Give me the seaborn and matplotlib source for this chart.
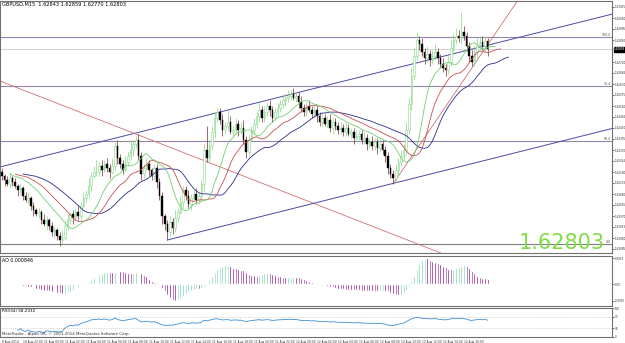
import numpy as np
import pandas as pd
import matplotlib
matplotlib.use("Agg")
import matplotlib.pyplot as plt
import matplotlib.transforms as mtrans
import seaborn as sns

# === Data (GBPUSD M15) ===
# closes in pips (price * 10000)
close_pips = [
    16217, 16215, 16213, 16216, 16214, 16212, 16210, 16211, 16207, 16205,
    16206, 16202, 16200, 16198, 16199, 16195, 16193, 16195, 16192, 16189,
    16190, 16187, 16185, 16186, 16192, 16195, 16198, 16196, 16199, 16197,
    16202, 16206, 16208, 16212, 16217, 16219, 16219, 16222, 16220, 16223,
    16221, 16219, 16222, 16232, 16226, 16223, 16220, 16224, 16227, 16230,
    16233, 16235, 16227, 16218, 16221, 16223, 16220, 16217, 16221, 16214,
    16207, 16197, 16193, 16189, 16194, 16191, 16196, 16199, 16204, 16210,
    16207, 16203, 16206, 16208, 16205, 16207, 16213, 16230, 16226, 16232,
    16239, 16246, 16249, 16245, 16240, 16242, 16244, 16239, 16240, 16243,
    16240, 16241, 16235, 16229, 16235, 16240, 16243, 16247, 16250, 16246,
    16249, 16252, 16250, 16246, 16249, 16251, 16253, 16255, 16256, 16257,
    16258, 16256, 16257, 16254, 16251, 16249, 16252, 16250, 16248, 16250,
    16247, 16244, 16246, 16243, 16245, 16241, 16244, 16242, 16240, 16241,
    16239, 16241, 16238, 16239, 16236, 16237, 16238, 16235, 16236, 16233,
    16234, 16232, 16234, 16231, 16233, 16230, 16227, 16221, 16218, 16216,
    16220, 16224, 16227, 16230, 16240, 16253, 16267, 16277, 16285, 16283,
    16279, 16276, 16278, 16275, 16277, 16279, 16276, 16273, 16271, 16270,
    16274, 16281, 16285, 16287, 16286, 16289, 16287, 16282, 16277, 16274,
    16279, 16282, 16284, 16282, 16284.3, 16280.3,
]
open0_pips = 16219

# wick lengths above / below the body, in pips
up_wick = [
    2, 1, 2, 3, 1, 2, 1, 2, 1, 2,
    3, 1, 2, 1, 2, 1, 3, 2, 1, 2,
    2, 1, 2, 4, 2, 3, 1, 2, 2, 3,
    2, 3, 2, 4, 2, 3, 6, 2, 3, 2,
    3, 2, 4, 2, 3, 2, 2, 3, 2, 5,
    2, 2, 3, 2, 2, 3, 2, 1, 2, 2,
    2, 2, 1, 2, 3, 2, 4, 2, 3, 2,
    2, 3, 2, 2, 3, 2, 2, 3, 12, 3,
    3, 3, 2, 2, 3, 2, 6, 3, 2, 3,
    2, 3, 4, 2, 3, 2, 3, 2, 4, 2,
    3, 2, 3, 2, 2, 3, 2, 3, 2, 3,
    2, 3, 2, 2, 3, 2, 2, 3, 2, 2,
    2, 2, 3, 2, 2, 3, 2, 2, 2, 3,
    2, 3, 2, 2, 2, 3, 2, 2, 3, 2,
    2, 3, 2, 2, 3, 2, 2, 2, 2, 2,
    3, 2, 3, 3, 4, 3, 4, 4, 4, 2,
    3, 2, 4, 2, 3, 4, 2, 2, 3, 2,
    3, 4, 3, 4, 3, 10, 3, 2, 2, 3,
    3, 4, 3, 3, 2, 1.6,
]
down_wick = [
    2, 3, 1, 2, 2, 1, 3, 2, 2, 1,
    2, 2, 3, 1, 2, 2, 1, 3, 2, 2,
    3, 2, 3, 2, 1, 2, 2, 3, 1, 2,
    2, 1, 2, 2, 3, 1, 2, 2, 3, 1,
    2, 3, 1, 2, 3, 2, 2, 1, 2, 2,
    3, 2, 2, 3, 2, 1, 3, 2, 2, 3,
    2, 4, 3, 4, 2, 3, 2, 2, 1, 3,
    2, 2, 3, 1, 2, 2, 2, 4, 2, 2,
    2, 3, 2, 2, 3, 2, 2, 1, 2, 2,
    3, 2, 2, 3, 2, 1, 2, 2, 3, 2,
    2, 2, 3, 2, 1, 2, 2, 2, 3, 2,
    2, 1, 2, 3, 2, 2, 2, 1, 2, 2,
    3, 2, 2, 1, 2, 2, 3, 2, 2, 2,
    2, 2, 1, 2, 3, 2, 2, 2, 2, 3,
    2, 2, 2, 3, 2, 2, 3, 3, 2, 3,
    2, 3, 2, 2, 3, 2, 3, 2, 2, 3,
    2, 3, 2, 3, 2, 2, 3, 2, 2, 3,
    2, 2, 3, 2, 2, 3, 2, 2, 3, 2,
    2, 3, 2, 2, 3, 3.3,
]

time_labels = [
    "8 Aug 2014", "10 Aug 22:00", "11 Aug 00:00", "11 Aug 02:00", "11 Aug 04:00",
    "11 Aug 06:00", "11 Aug 08:00", "11 Aug 10:00", "11 Aug 12:00", "11 Aug 14:00",
    "11 Aug 16:00", "11 Aug 18:00", "11 Aug 20:00", "11 Aug 22:00", "12 Aug 00:00",
    "12 Aug 02:00", "12 Aug 04:00", "12 Aug 06:00", "12 Aug 08:00", "12 Aug 10:00",
    "12 Aug 12:00", "12 Aug 14:00", "12 Aug 16:00",
]
bars_per_label = 8

price_ticks = [
    1.63015, 1.62960, 1.62905, 1.62850, 1.62740, 1.62685, 1.62630, 1.62575,
    1.62520, 1.62465, 1.62410, 1.62355, 1.62300, 1.62245, 1.62190, 1.62135,
    1.62080, 1.62025, 1.61970, 1.61915, 1.61860, 1.61805,
]

# fibo levels
fib_high, fib_low = 1.62865, 1.61830
fib_ratios = [1.0, 0.764, 0.5, 0.0]
fib_labels = ["100.0", "76.4", "50.0", "0.0"]

# drawn trend lines: (bar, price) anchors
channel_top = [(51, 1.62385), (109, 1.62575)]
channel_bottom = [(63, 1.61850), (149, 1.62133)]
red_down = [(0, 1.62641), (100, 1.62129)]
red_up = [(149, 1.62131), (176, 1.62652)]

rsi_period = 34

# === Build OHLC ===
close = np.array(close_pips) / 10000
opens = np.concatenate([[open0_pips / 10000], close[:-1]])
high = np.maximum(opens, close) + np.array(up_wick) / 10000
low = np.minimum(opens, close) - np.array(down_wick) / 10000
idx = np.arange(len(close))
median = pd.Series((high + low) / 2)

# Alligator (SMMA of median price, shifted forward)
jaw = median.ewm(alpha=1 / 13, adjust=False).mean()
teeth = median.ewm(alpha=1 / 8, adjust=False).mean()
lips = median.ewm(alpha=1 / 5, adjust=False).mean()

# Awesome Oscillator
ao = (median.rolling(5, min_periods=1).mean() - median.rolling(34, min_periods=1).mean()).values
ao_up = np.concatenate([[True], ao[1:] >= ao[:-1]])

# RSI (Wilder smoothing)
delta = pd.Series(close).diff().fillna(0)
gain = delta.clip(lower=0).ewm(alpha=1 / rsi_period, adjust=True).mean()
loss = (-delta.clip(upper=0)).ewm(alpha=1 / rsi_period, adjust=True).mean()
rsi = (100 * gain / (gain + loss).replace(0, np.nan)).values
rsi[:6] = np.nan

# === Figure ===
sns.set_style("white")
plt.rcParams["font.family"] = ["DejaVu Sans"]
fig = plt.figure(figsize=(6.25, 3.43), dpi=100)
W, H = 625, 343
ax = fig.add_axes([0, 1 - 253 / H, 612 / W, 252 / H])
ax_ao = fig.add_axes([0, 1 - 306 / H, 612 / W, 50 / H])
ax_rsi = fig.add_axes([0, 1 - 337 / H, 612 / W, 29 / H])

xlim = (-0.76, 232.4)
tick_fs = 2.0
frame = "#707070"
for a in (ax, ax_ao, ax_rsi):
    a.set_xlim(*xlim)
    a.set_facecolor("white")
    for s in a.spines.values():
        s.set_color(frame)
        s.set_linewidth(0.8)
    a.yaxis.tick_right()
    a.tick_params(axis="y", length=1.5, width=0.5, labelsize=tick_fs, pad=0.5, colors="#303030")
    a.tick_params(axis="x", length=0)
    a.set_xticks([])
    a.grid(False)

# --- main chart ---
ax.set_ylim(1.61785, 1.63045)
ax.set_yticks(price_ticks)
ax.set_yticklabels([f"{p:.5f}" for p in price_ticks])

yblend = mtrans.blended_transform_factory(ax.transAxes, ax.transData)
for r, lab in zip(fib_ratios, fib_labels):
    lvl = fib_low + r * (fib_high - fib_low)
    ax.axhline(lvl, color="#9585aa" if r > 0 else "#808080", lw=0.8, zorder=1)
    ax.text(0.999, lvl, lab, transform=yblend, ha="right", va="bottom",
            fontsize=2.3, color="#555555")

ax.axhline(close[-1], color="#cccccc", lw=0.6, zorder=1)

# trend lines
ax.axline(channel_top[0], channel_top[1], color="#4a4aa8", lw=0.7, zorder=2)
ax.axline(red_down[0], red_down[1], color="#d07070", lw=0.6, zorder=2)
for (x0, y0), (x1, y1), col, lw in ((*channel_bottom, "#4a4aa8", 0.7), (*red_up, "#d07070", 0.6)):
    slope = (y1 - y0) / (x1 - x0)
    ax.plot([x0, xlim[1]], [y0, y0 + slope * (xlim[1] - x0)], color=col, lw=lw, zorder=2)

# candles
bull = close >= opens
bull_col, bear_wick = "#86d886", "#7a2a3a"
ax.vlines(idx[bull], low[bull], high[bull], color=bull_col, lw=0.5, zorder=3)
ax.vlines(idx[~bull], low[~bull], high[~bull], color=bear_wick, lw=0.5, zorder=3)
body = np.maximum(np.abs(close - opens), 0.00002)
ax.bar(idx[bull], body[bull], bottom=opens[bull], width=0.6, facecolor="white",
       edgecolor=bull_col, linewidth=0.4, zorder=4)
ax.bar(idx[~bull], body[~bull], bottom=close[~bull], width=0.6, facecolor="black",
       edgecolor="black", linewidth=0.3, zorder=4)

# alligator lines
sns.lineplot(x=idx + 8, y=jaw.values, ax=ax, color="#2b2b8c", lw=0.6, zorder=5)
sns.lineplot(x=idx + 5, y=teeth.values, ax=ax, color="#c85050", lw=0.6, zorder=5)
sns.lineplot(x=idx + 3, y=lips.values, ax=ax, color="#70d070", lw=0.6, zorder=5)
ax.set_xlabel("")
ax.set_ylabel("")

ax.text(1.003, close[-1], f"{close[-1]:.5f}", transform=yblend,
        ha="left", va="center", fontsize=tick_fs, color="white",
        bbox=dict(boxstyle="square,pad=0.12", facecolor="black", edgecolor="black"))
ax.text(0.004, 0.995, f"GBPUSD,M15  {opens[-1]:.5f} {high[-1]:.5f} {low[-1]:.5f} {close[-1]:.5f}",
        transform=ax.transAxes, ha="left", va="top", fontsize=3.6, color="black")
fig.text(605 / W, 1 - 253 / H, f"{close[-1]:.5f}", ha="right", va="bottom",
         fontsize=15, color="#80dd44")

# --- AO panel ---
ax_ao.bar(idx, ao, width=0.75, color=np.where(ao_up, "#6fd3a8", "#800080"), zorder=3)
mn, mx = ao.min(), ao.max()
ax_ao.set_ylim(mn - 0.12 * (mx - mn), mx + 0.05 * (mx - mn))
ax_ao.set_yticks([mn, 0, mx])
ax_ao.set_yticklabels([f"{mn:.4f}", "0.00", f"{mx:.4f}"])
ax_ao.text(0.004, 0.97, f"AO {ao[-1]:.6f}", transform=ax_ao.transAxes,
           ha="left", va="top", fontsize=3.4, color="black")

# --- RSI panel ---
ax_rsi.set_ylim(0, 100)
ax_rsi.set_yticks([0, 30, 70, 100])
ax_rsi.set_yticklabels(["0", "30", "70", "100"])
for lvl in (30, 70):
    ax_rsi.axhline(lvl, color="#b0b0b0", lw=0.5, ls=(0, (1, 2)), zorder=1)
sns.lineplot(x=idx, y=rsi, ax=ax_rsi, color="#3d8fd6", lw=0.6, zorder=3)
ax_rsi.set_xlabel("")
ax_rsi.set_ylabel("")
ax_rsi.text(0.004, 0.97, f"RSI({rsi_period}) {rsi[-1]:.4f}", transform=ax_rsi.transAxes,
            ha="left", va="top", fontsize=3.0, color="black")
ax_rsi.text(0.004, 0.03, "MetaTrader - Alpari UK, \u00a9 2001-2014 MetaQuotes Software Corp.",
            transform=ax_rsi.transAxes, ha="left", va="bottom", fontsize=2.8, color="#303030")

ax_rsi.set_xticks(np.arange(len(time_labels)) * bars_per_label)
ax_rsi.set_xticklabels(time_labels, ha="left")
ax_rsi.tick_params(axis="x", length=1.5, width=0.5, labelsize=2.1, pad=0.5, colors="#303030")
ax_rsi.set_xlim(*xlim)

fig.savefig("out.png", dpi=100, facecolor="white")
plt.close(fig)
print("saved out.png")
